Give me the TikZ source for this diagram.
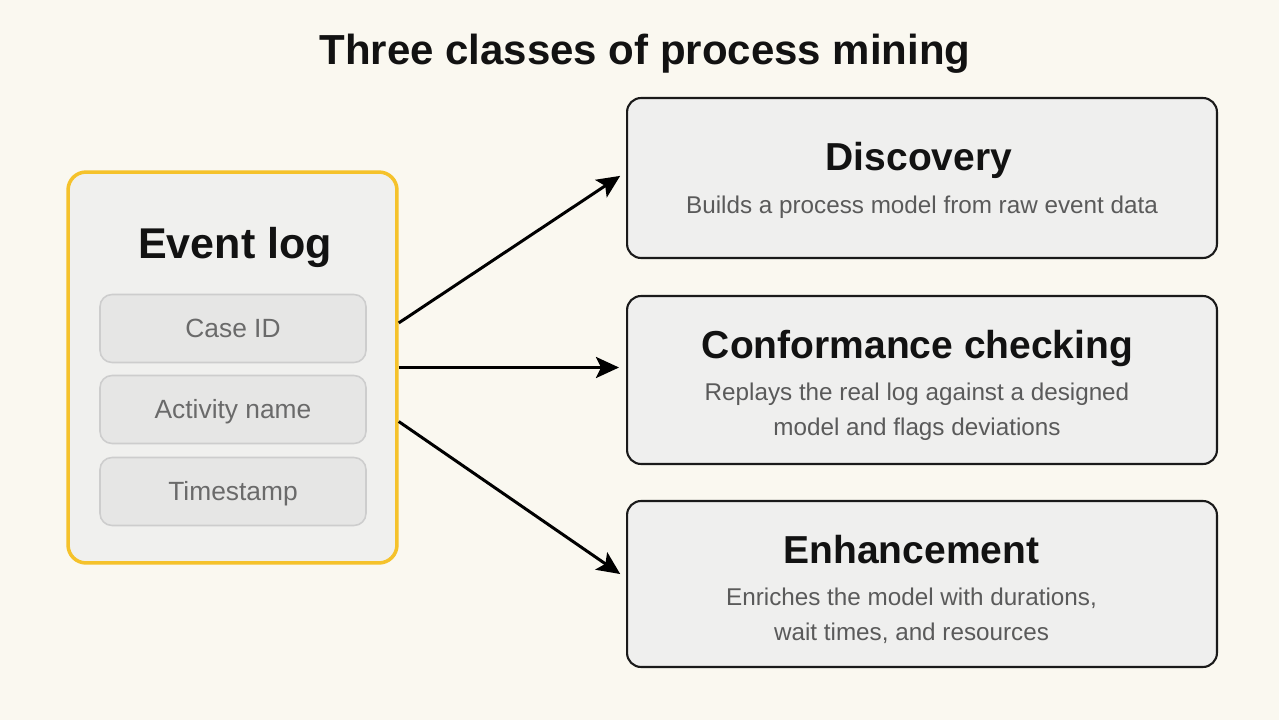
\documentclass[tikz,border=0pt]{standalone}
\usepackage{fontspec}
\setmainfont{Liberation Sans}
\usetikzlibrary{arrows.meta}
\definecolor{bgcol}{HTML}{FAF8F0}
\definecolor{logfill}{HTML}{F0F0EE}
\definecolor{logedge}{HTML}{F5C22B}
\definecolor{fieldfill}{HTML}{E6E6E5}
\definecolor{fieldedge}{HTML}{CDCDCD}
\definecolor{fieldtext}{HTML}{6A6A6A}
\definecolor{classfill}{HTML}{EFEFEE}
\definecolor{classedge}{HTML}{1A1A1A}
\definecolor{subtext}{HTML}{5A5A5A}
\begin{document}
\begin{tikzpicture}[
    x=0.02cm, y=-0.02cm,
    every node/.style={inner sep=0pt},
    title/.style={font=\fontsize{23.9}{28}\selectfont\bfseries, text=black!93, anchor=base},
    logbox/.style={draw=logedge, line width=2pt, fill=logfill, rounded corners=0.36cm, minimum width=6.58cm, minimum height=7.82cm},
    field/.style={draw=fieldedge, line width=0.9pt, fill=fieldfill, rounded corners=0.24cm, minimum width=5.32cm, minimum height=1.36cm, text=fieldtext, font=\fontsize{15}{18}\selectfont, text height=10.7pt, text depth=0pt},
    classbox/.style={draw=classedge, line width=1.2pt, fill=classfill, rounded corners=0.28cm, minimum width=11.8cm},
    head/.style={font=\fontsize{22.2}{26}\selectfont\bfseries, text=black!93, anchor=base},
    desc/.style={font=\fontsize{13.8}{19.9}\selectfont, text=subtext, align=center, anchor=base},
    arr/.style={-{Stealth[length=0.46cm, width=0.42cm, inset=0.1cm]}, line width=1.7pt, shorten >=0.14cm}
]
\useasboundingbox[fill=bgcol] (0,0) rectangle (1279,720);

\node[title] (maintitle) at (645,64) {Three classes of process mining};

% Event log
\node[logbox] (evlog) at (232.5,367.5) {};
\node[head, font=\fontsize{24.5}{28}\selectfont\bfseries] (evlogtitle) at (235,258) {Event log};
\node[field] (caseid) at (233,328.5) {Case ID};
\node[field] (activity) at (233,409.5) {Activity name};
\node[field] (stamp) at (233,491.5) {Timestamp};

% Classes (base of a two-line text is its last line)
\node[classbox, minimum height=3.2cm] (disc) at (922,178) {};
\node[head] (disctitle) at (919,170) {Discovery};
\node[desc] (discdesc) at (922,213) {Builds a process model from raw event data};

\node[classbox, minimum height=3.36cm] (conf) at (922,380) {};
\node[head] (conftitle) at (917.5,358) {Conformance checking};
\node[desc] (confdesc) at (917,435) {Replays the real log against a designed\\model and flags deviations};

\node[classbox, minimum height=3.32cm] (enh) at (922,584) {};
\node[head] (enhtitle) at (911.5,563) {Enhancement};
\node[desc] (enhdesc) at (911.5,640) {Enriches the model with durations,\\wait times, and resources};

% Arrows
\draw[arr] (evlog.15) -- ([yshift=0.12cm]disc.west);
\draw[arr] (evlog.east) -- (evlog.east -| conf.west);
\draw[arr] (evlog.-18) -- ([yshift=0.12cm]enh.west);
\end{tikzpicture}
\end{document}
